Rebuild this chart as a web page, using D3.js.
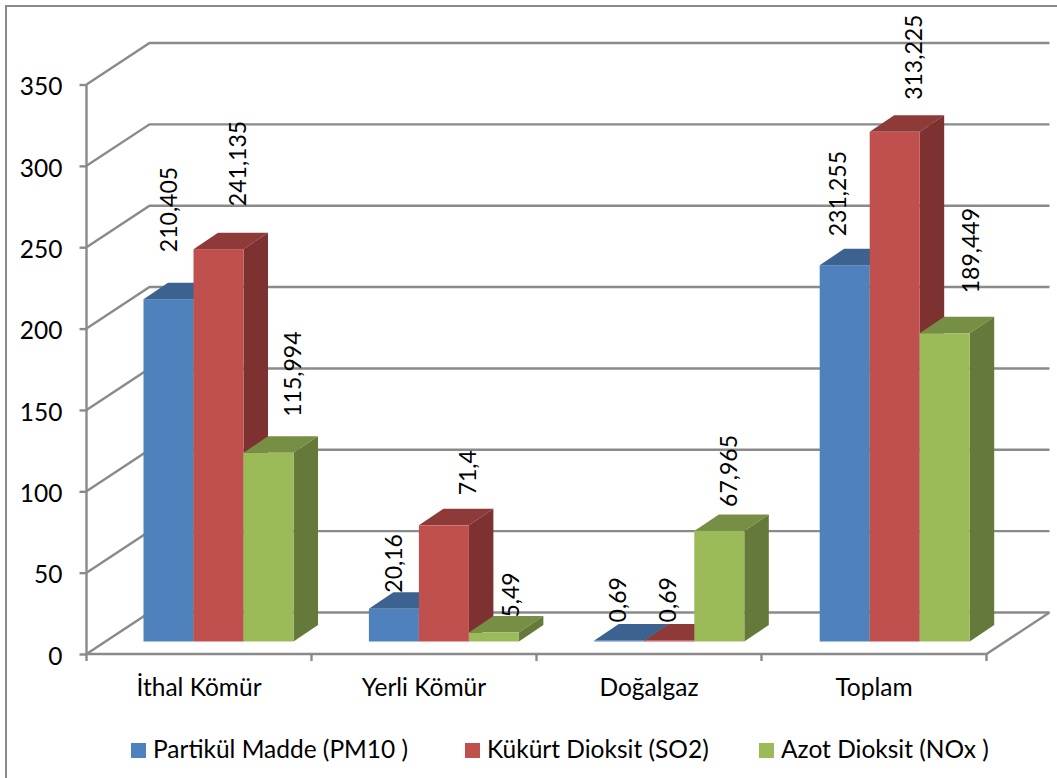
<!DOCTYPE html>
<html>
<head>
<meta charset="utf-8">
<script src="https://cdn.jsdelivr.net/npm/d3@7/dist/d3.min.js"></script>
<style>
  html, body { margin: 0; padding: 0; background: #fff; }
  svg { display: block; }
  text { font-family: Lato, "Open Sans", sans-serif; fill: #000; }
</style>
</head>
<body>
<svg id="chart" width="1057" height="778"></svg>
<script>
// Emission totals by fuel source
const categories = ["İthal Kömür", "Yerli Kömür", "Doğalgaz", "Toplam"];
const seriesNames = ["Partikül Madde (PM10 )", "Kükürt Dioksit (SO2)", "Azot Dioksit (NOx )"];
const pm10 = [210.405, 20.16, 0.69, 231.255];
const so2 = [241.135, 71.4, 0.69, 313.225];
const nox = [115.994, 5.49, 67.965, 189.449];
const yTicks = [0, 50, 100, 150, 200, 250, 300, 350];

// Face colours per series: front, top, side
const faceFront = ["#4F81BD", "#C0504D", "#9BBB59"];
const faceTop = ["#3C6290", "#8E3A38", "#778F45"];
const faceSide = ["#3A5F8C", "#7D3130", "#657A3A"];

// Hand-placed data labels: sideways shift from the bar centre, lift above the front face
const labelShift = [[-1, -1, -2, -8], [18, 23, -2, 18], [23, 16, 9, 25]];
const labelLift = [[47, 16, 18, 29], [43, 30, 18, 32], [36, 15, 24, 40]];

const values = [pm10, so2, nox];
const fmt = v => String(v).replace(".", ",");

const svg = d3.select("#chart");
const GRID = "#8A8A8A";
const LINE_W = 2.4;

// Chart frame
svg.append("rect").attr("x", 6).attr("y", 6).attr("width", 1100).attr("height", 820)
  .attr("fill", "#fff").attr("stroke", "#8A8A8A").attr("stroke-width", 2);

// Scales and projection offsets
const left = 86.5, right = 986.5;
const y = d3.scaleLinear().domain([0, 350]).range([654, 84.5]);
const x = d3.scaleBand().domain(categories).range([left, right]);
const barGroups = d3.scaleBand().domain(categories).range([143.5, 143.5 + 4 * 225.4]);
const inner = d3.scaleBand().domain(d3.range(3)).range([0, 150]);
const wallDx = 63, wallDy = -41.5;       // depth of the back wall
const barDx = 24.5, barDy = -16.5;       // depth of a bar
const floorLift = 12.5;                  // bars stand this far above the front edge

// Back wall gridlines and their run along the side wall
const grid = svg.append("g").attr("fill", "none").attr("stroke", GRID).attr("stroke-width", LINE_W);
grid.selectAll("polyline").data(yTicks).join("polyline")
  .attr("points", v => [[left, y(v)], [left + wallDx, y(v) + wallDy], [right + wallDx, y(v) + wallDy]].join(" "));
// Floor right-hand edge
grid.append("line")
  .attr("x1", right).attr("y1", y(0))
  .attr("x2", right + wallDx).attr("y2", y(0) + wallDy);

// Value axis
const yAxis = svg.append("g").attr("transform", `translate(${left},0)`)
  .call(d3.axisLeft(y).tickValues(yTicks).tickSize(7).tickPadding(17).tickFormat(d3.format("d")));
yAxis.selectAll("path, line").attr("stroke", GRID).attr("stroke-width", LINE_W);
yAxis.selectAll("text").attr("font-size", 24.5).attr("fill", "#000").attr("dy", "0.42em");
yAxis.select(".domain").attr("d", `M0,${y(350)}V${y(0)}`);

// Category axis: labels centred in each band, ticks on the band edges
const xAxis = svg.append("g").attr("transform", `translate(0,${y(0)})`)
  .call(d3.axisBottom(x).tickSize(0).tickPadding(25));
xAxis.select(".domain").attr("stroke", GRID).attr("stroke-width", LINE_W).attr("d", `M${left},0H${right}`);
xAxis.selectAll("text").attr("font-size", 24.5).attr("fill", "#000");
svg.append("g").selectAll("line").data(d3.range(categories.length + 1)).join("line")
  .attr("x1", i => left + i * x.bandwidth()).attr("x2", i => left + i * x.bandwidth())
  .attr("y1", y(0)).attr("y2", y(0) + 7)
  .attr("stroke", GRID).attr("stroke-width", LINE_W);

// Bars as three faces, drawn left to right so nearer neighbours overlap
const base = y(0) - floorLift;
const barTop = v => y(v) - floorLift;
const w = inner.bandwidth();
const bars = svg.append("g");
categories.forEach((c, ci) => {
  values.forEach((vals, si) => {
    const x0 = barGroups(c) + inner(si), x1 = x0 + w, t = barTop(vals[ci]);
    const g = bars.append("g");
    g.append("polygon").attr("fill", faceTop[si])
      .attr("points", [[x0, t], [x0 + barDx, t + barDy], [x1 + barDx, t + barDy], [x1, t]].join(" "));
    g.append("polygon").attr("fill", faceSide[si])
      .attr("points", [[x1, t], [x1 + barDx, t + barDy], [x1 + barDx, base + barDy], [x1, base]].join(" "));
    g.append("rect").attr("fill", faceFront[si])
      .attr("x", x0).attr("y", t).attr("width", w).attr("height", base - t);
  });
});

// Rotated data labels
const labels = svg.append("g");
values.forEach((vals, si) => {
  vals.forEach((v, ci) => {
    const cx = barGroups(categories[ci]) + inner(si) + w / 2 + labelShift[si][ci];
    const cy = barTop(v) - labelLift[si][ci];
    labels.append("text").attr("font-size", 23).attr("dominant-baseline", "central")
      .attr("transform", `translate(${cx},${cy}) rotate(-90)`).text(fmt(v));
  });
});

// Legend
const legendX = [131, 465, 759];
const legend = svg.append("g").selectAll("g").data(seriesNames).join("g")
  .attr("transform", (d, i) => `translate(${legendX[i]},743)`);
legend.append("rect").attr("width", 15).attr("height", 15).attr("fill", (d, i) => faceFront[i]);
legend.append("text").attr("x", 22).attr("y", 15).attr("font-size", 24.5).text(d => d);
</script>
</body>
</html>
